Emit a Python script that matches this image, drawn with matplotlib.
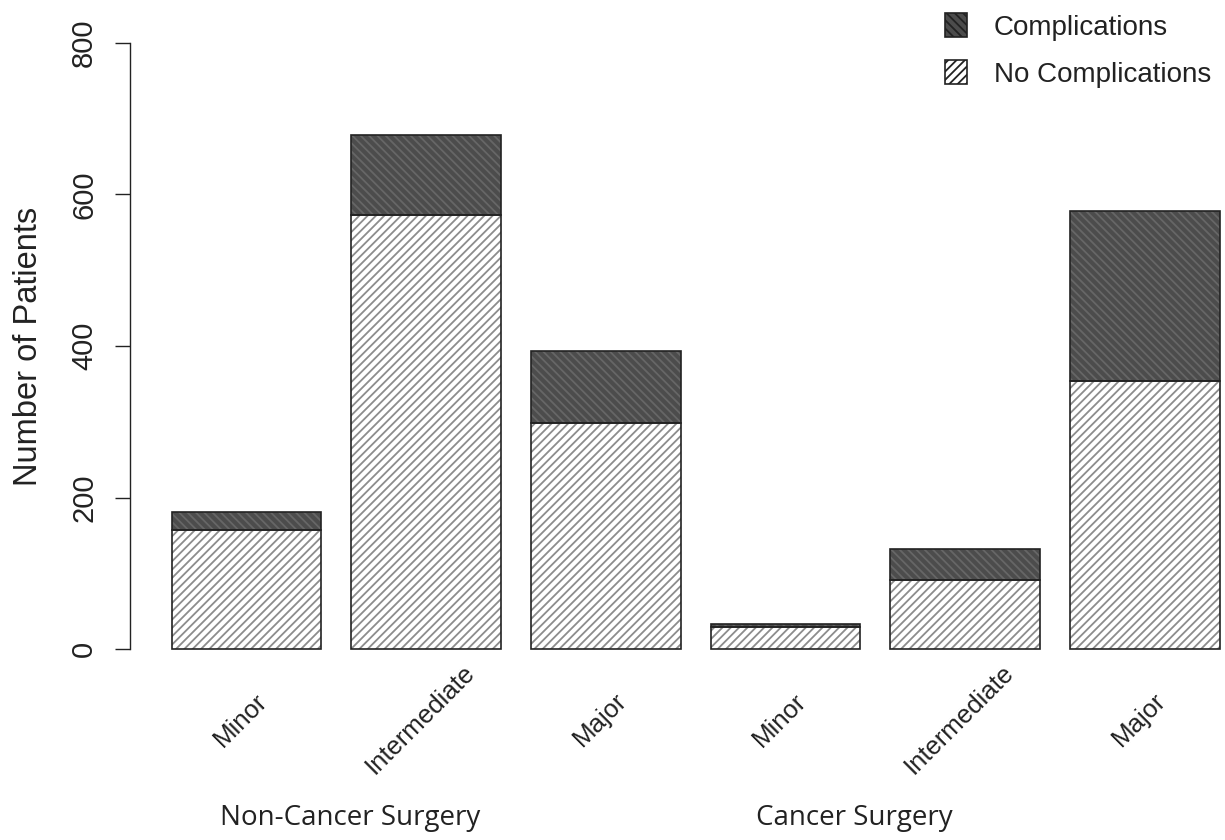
"""
Stacked bar chart: patients with / without complications by surgery type.
"""

import numpy as np
import matplotlib.pyplot as plt
from matplotlib.patches import Patch


# ============================================
# Data
# ============================================

CATEGORIES      = ["Minor", "Intermediate", "Major", "Minor", "Intermediate", "Major"]
GROUPS          = ["Non-Cancer Surgery", "Cancer Surgery"]
NO_COMPLICATION = [157, 573, 298, 30, 92, 354]
COMPLICATION    = [24, 105, 95, 4, 41, 224]
Y_TICKS         = [0, 200, 400, 600, 800]


# ============================================
# Style
# ============================================

plt.rcParams["font.family"] = ["Liberation Sans", "DejaVu Sans"]
plt.rcParams["hatch.linewidth"] = 1.3

W, H, DPI = 12.25, 8.4, 100
BAR_W = 1.0
SPACE = 0.2

LIGHT_HATCH = "#8c8c8c"
DARK_FACE   = "#4c4c4c"
DARK_HATCH  = "#666666"
INK         = "#222222"

x_left  = SPACE + np.arange(len(CATEGORIES)) * (BAR_W + SPACE)
centers = x_left + BAR_W / 2
no_comp = np.array(NO_COMPLICATION)
comp    = np.array(COMPLICATION)

fig = plt.figure(figsize=(W, H), dpi=DPI)
ax = fig.add_axes([0.1060, 0.1981, 0.9239, 0.7798])

# hatch layers (no outline), then outlines on top
ax.bar(x_left, no_comp, width=BAR_W, align="edge", color="white",
       hatch="////", edgecolor=LIGHT_HATCH, linewidth=0)
ax.bar(x_left, comp, width=BAR_W, bottom=no_comp, align="edge", color=DARK_FACE,
       hatch="\\\\\\\\", edgecolor=DARK_HATCH, linewidth=0)
ax.bar(x_left, no_comp, width=BAR_W, align="edge", fill=False,
       edgecolor=INK, linewidth=1.2)
ax.bar(x_left, comp, width=BAR_W, bottom=no_comp, align="edge", fill=False,
       edgecolor=INK, linewidth=1.2)

ax.set_xlim(-0.08, 7.48)
ax.set_ylim(-32, 832)

for side in ["top", "right", "bottom"]:
    ax.spines[side].set_visible(False)
ax.spines["left"].set_bounds(0, 800)
ax.spines["left"].set_linewidth(1.0)
ax.spines["left"].set_color(INK)

ax.set_xticks([])
ax.set_yticks(Y_TICKS)
ax.set_yticklabels([str(t) for t in Y_TICKS], rotation=90, va="center")
ax.tick_params(axis="y", length=10.8, width=1.0, color=INK,
               labelsize=21, pad=12, labelcolor=INK)

ax.set_ylabel("Number of Patients", fontsize=23.5, color=INK, labelpad=19)

# rotated category labels under each bar
for cx, lbl in zip(centers, CATEGORIES):
    ax.text(cx - 0.04, -93, lbl, rotation=45, ha="center", va="center",
            rotation_mode="anchor", fontsize=18.5, color=INK, clip_on=False)

# group labels
for gx, g in zip([1.39, 4.76], GROUPS):
    ax.text(gx, -222, g, ha="center", va="center", fontsize=20,
            family=["Open Sans", "DejaVu Sans"], color=INK, clip_on=False)

# legend
handles = [
    Patch(facecolor=DARK_FACE, hatch="\\\\\\\\", edgecolor=DARK_HATCH, linewidth=0),
    Patch(facecolor="white", hatch="////", edgecolor=LIGHT_HATCH, linewidth=0),
]
leg = fig.legend(handles, ["Complications", "No Complications"],
                 loc="upper left", bbox_to_anchor=(945 / 1225, 1 - 13 / 840),
                 frameon=False, fontsize=20, borderpad=0, borderaxespad=0,
                 handlelength=0.8, handleheight=0.95, handletextpad=0.95,
                 labelspacing=0.7)
for t in leg.get_texts():
    t.set_color(INK)
for p in leg.get_patches():
    p.set_edgecolor(INK)
    p.set_linewidth(1.2)

fig.savefig("out.png", dpi=DPI)
